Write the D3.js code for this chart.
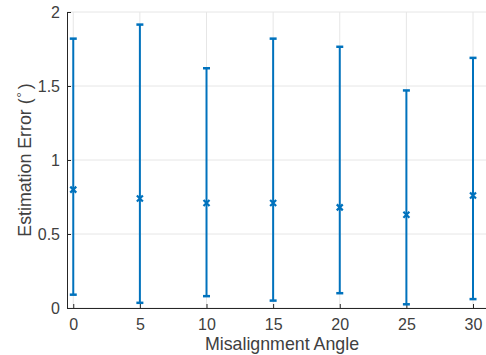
<!DOCTYPE html>
<html>
<head>
<meta charset="utf-8">
<script src="https://cdn.jsdelivr.net/npm/d3@7"></script>
<style>
  html, body { margin: 0; padding: 0; background: #fff; overflow: hidden; }
  svg { display: block; font-family: "Liberation Sans", Arial, sans-serif; }
</style>
</head>
<body>
<svg id="svg" width="486" height="355"></svg>
<script>
// --- Data ------------------------------------------------------------------
const angles = [0, 5, 10, 15, 20, 25, 30];
const meanErr = [0.80, 0.74, 0.71, 0.71, 0.68, 0.63, 0.76];
const lowErr = [0.09, 0.035, 0.08, 0.05, 0.10, 0.025, 0.06];
const highErr = [1.82, 1.915, 1.62, 1.82, 1.765, 1.47, 1.69];
const xTicks = [0, 5, 10, 15, 20, 25, 30];
const yTicks = [0, 0.5, 1, 1.5, 2];

// --- Layout ----------------------------------------------------------------
// the axes box runs a little past the right edge of the picture
const svg = d3.select("#svg");
const mLeft = 67, mRight = 497, mTop = 12, mBottom = 308;
const blue = "#0072BD", axisCol = "#262626", gridCol = "#e6e6e6", textCol = "#404040";

const x = d3.scaleLinear().domain([-0.47, 31.8]).range([mLeft, mRight]);
const y = d3.scaleLinear().domain([0, 2]).range([mBottom, mTop]);

// Grid
const grid = svg.append("g");
grid.selectAll("line.gx").data(xTicks).enter().append("line")
  .attr("x1", d => x(d)).attr("x2", d => x(d))
  .attr("y1", mTop).attr("y2", mBottom)
  .attr("stroke", gridCol).attr("stroke-width", 1);
grid.selectAll("line.gy").data(yTicks).enter().append("line")
  .attr("x1", mLeft).attr("x2", mRight)
  .attr("y1", d => y(d)).attr("y2", d => y(d))
  .attr("stroke", gridCol).attr("stroke-width", 1);

// Axes (ticks pointing inward)
const xAxis = svg.append("g").attr("transform", `translate(0,${mBottom})`)
  .call(d3.axisBottom(x).tickValues(xTicks).tickSize(-4).tickPadding(11).tickSizeOuter(0));
const yAxis = svg.append("g").attr("transform", `translate(${mLeft},0)`)
  .call(d3.axisLeft(y).tickValues(yTicks).tickSize(-4).tickPadding(7).tickSizeOuter(0)
    .tickFormat(d3.format("")));
for (const ax of [xAxis, yAxis]) {
  ax.select(".domain").attr("stroke", axisCol).attr("stroke-width", 1);
  ax.selectAll(".tick line").attr("stroke", axisCol);
  ax.selectAll(".tick text").attr("fill", textCol).attr("font-size", 16)
    .attr("font-family", "Liberation Sans, Arial, sans-serif");
}
yAxis.select(".domain").attr("d", `M0.5,${mTop}V${mBottom}`);
xAxis.select(".domain").attr("d", `M${mLeft},0.5H${mRight}`);

// Error bars
const pts = angles.map((a, i) => ({ a, m: meanErr[i], lo: lowErr[i], hi: highErr[i] }));
const eb = svg.append("g").attr("stroke", blue).attr("stroke-width", 2).attr("fill", "none");
eb.selectAll("line.v").data(pts).enter().append("line")
  .attr("x1", d => x(d.a)).attr("x2", d => x(d.a))
  .attr("y1", d => y(d.lo)).attr("y2", d => y(d.hi));
eb.selectAll("line.ct").data(pts).enter().append("line")
  .attr("x1", d => x(d.a) - 3.5).attr("x2", d => x(d.a) + 3.5)
  .attr("y1", d => y(d.hi)).attr("y2", d => y(d.hi)).attr("stroke-width", 2.5);
eb.selectAll("line.cb").data(pts).enter().append("line")
  .attr("x1", d => x(d.a) - 3.5).attr("x2", d => x(d.a) + 3.5)
  .attr("y1", d => y(d.lo)).attr("y2", d => y(d.lo)).attr("stroke-width", 2.5);

// Markers (x)
const mk = svg.append("g").attr("stroke", blue).attr("stroke-width", 2.2);
mk.selectAll("path").data(pts).enter().append("path")
  .attr("d", d => {
    const cx = x(d.a), cy = y(d.m), s = 3;
    return `M${cx - s},${cy - s}L${cx + s},${cy + s}M${cx - s},${cy + s}L${cx + s},${cy - s}`;
  });

// Labels
svg.append("text")
  .attr("x", (mLeft + mRight) / 2).attr("y", 350)
  .attr("text-anchor", "middle").attr("font-size", 17.8).attr("fill", textCol)
  .text("Misalignment Angle");
const yl = svg.append("text")
  .attr("transform", `translate(31,${(mTop + mBottom) / 2}) rotate(-90)`)
  .attr("text-anchor", "middle").attr("font-size", 17.8).attr("fill", textCol);
yl.append("tspan").text("Estimation Error (");
yl.append("tspan").attr("dx", 1).attr("dy", -5).attr("font-size", 13).text("°");
yl.append("tspan").attr("dx", 3).attr("dy", 5).text(")");
</script>
</body>
</html>
